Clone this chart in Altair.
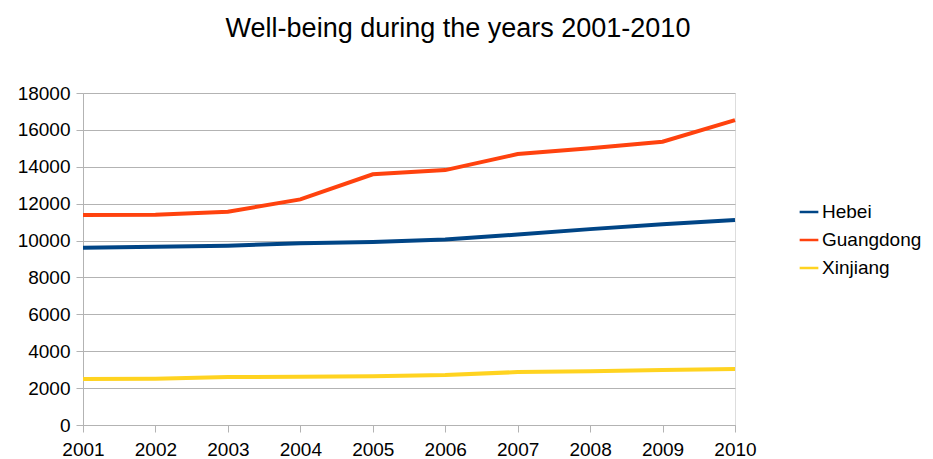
import altair as alt
import pandas as pd

years = [2001, 2002, 2003, 2004, 2005, 2006, 2007, 2008, 2009, 2010]
hebei = [9610, 9660, 9720, 9850, 9920, 10060, 10330, 10620, 10890, 11110]
guangdong = [11380, 11400, 11560, 12230, 13590, 13820, 14690, 15000, 15360, 16530]
xinjiang = [2490, 2510, 2600, 2620, 2640, 2710, 2870, 2910, 2980, 3040]
series = ["Hebei", "Guangdong", "Xinjiang"]
colors = ["#004586", "#ff420e", "#ffd320"]

rows = []
for name, vals in zip(series, [hebei, guangdong, xinjiang]):
    for y, v in zip(years, vals):
        rows.append({"year": y, "value": v, "region": name})
df = pd.DataFrame(rows)

FONT = "Liberation Sans"

chart = alt.Chart(df).mark_line(strokeWidth=4).encode(
    x=alt.X("year:Q", scale=alt.Scale(domain=[2001, 2010], nice=False),
            axis=alt.Axis(values=years, format="d", title=None, grid=False,
                          labelFontSize=19, labelColor="#000", labelFont=FONT,
                          domainColor="#b3b3b3", tickColor="#b3b3b3", tickSize=7,
                          labelPadding=8, labelFlush=False)),
    y=alt.Y("value:Q", scale=alt.Scale(domain=[0, 18000], nice=False),
            axis=alt.Axis(values=list(range(0, 18001, 2000)), format="d", title=None,
                          labelFontSize=19, labelColor="#000", labelFont=FONT,
                          gridColor="#b3b3b3", domainColor="#b3b3b3",
                          tickColor="#b3b3b3", tickSize=7, labelPadding=6)),
    color=alt.Color("region:N", scale=alt.Scale(domain=series, range=colors),
                    legend=alt.Legend(title=None, orient="none", legendX=715, legendY=108,
                                      symbolType="stroke", symbolStrokeWidth=2.5,
                                      symbolSize=350, labelFontSize=19, labelFont=FONT,
                                      labelColor="#000", rowPadding=7, labelOffset=2)),
).properties(
    width=652, height=332,
    title=alt.Title("Well-being during the years 2001-2010", fontSize=27,
                    font=FONT, fontWeight="normal", color="#000",
                    offset=41, dx=49),
    autosize=alt.AutoSizeParams(type="none"),
    padding={"left": 83, "top": 93, "right": 198, "bottom": 34},
).configure_view(stroke="#b3b3b3").configure(background="white")

chart.save("out.html", embed_options={"renderer": "svg", "actions": False})
